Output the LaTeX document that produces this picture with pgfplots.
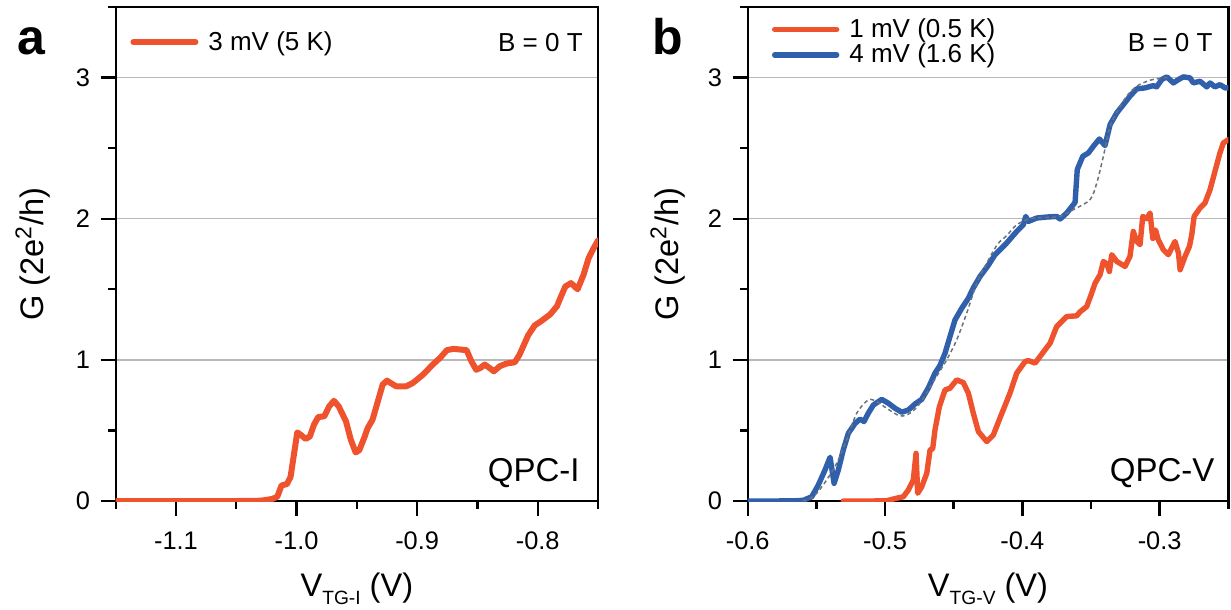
\documentclass[border=0pt]{standalone}
\usepackage{fontspec}
\setmainfont{Liberation Sans}
\usepackage{pgfplots}
\pgfplotsset{compat=1.18}
\definecolor{cred}{RGB}{238,83,45}
\definecolor{cblue}{RGB}{48,96,172}
\definecolor{cgrid}{RGB}{185,185,185}
\definecolor{cfit}{RGB}{105,115,125}

\pgfplotsset{
  panel/.style={
    scale only axis, height=247pt,
    ymin=0, ymax=3.5,
    ytick={0,1,2,3}, minor ytick={0.5,1.5,2.5,3.5},
    ymajorgrids, grid style={cgrid, line width=0.75pt},
    tick pos=left, tick align=outside,
    major tick length=7.5pt, minor tick length=3.75pt,
    every tick/.style={black, line width=1.2pt},
    axis line style={line width=1.2pt},
    ticklabel style={font=\fontsize{12.7}{14}\selectfont},
    /pgf/number format/assume math mode=true,
    xticklabel style={yshift=-4.5pt, /pgf/number format/.cd, fixed, fixed zerofill, precision=1},
    yticklabel style={xshift=-1.8pt, /pgf/number format/.cd, fixed, precision=0},
    xlabel style={font=\fontsize{16.3}{18}\selectfont, at={(axis description cs:0.5,-0.194)}, anchor=base},
    ylabel style={font=\fontsize{16.3}{18}\selectfont, anchor=center},
    legend style={draw=none, fill=none, inner sep=0pt, font=\fontsize{13}{14}\selectfont},
    legend cell align=left,
    legend image code/.code={\draw[#1] (0pt,0pt) -- (31pt,0pt); \path (34pt,0pt);},
  },
  curve/.style={line width=2.7pt, line join=round, line cap=round},
}

\begin{document}
\begin{tikzpicture}
\path[use as bounding box] (0,0) rectangle (615.5pt,-305pt);

% ---------------- panel a ----------------
\begin{axis}[panel,
  at={(57.85pt,-250.5pt)}, anchor=south west, width=241.15pt,
  xmin=-1.15, xmax=-0.75,
  xtick={-1.1,-1.0,-0.9,-0.8}, minor xtick={-1.15,-1.05,-0.95,-0.85,-0.75},
  xlabel={V\raisebox{-0.45ex}{\fontsize{9.6}{10}\selectfont TG-I} (V)},
  ylabel={G (2e\textsuperscript{2}/h)},
  ylabel style={at={(axis description cs:-0.1715,0.5)}},
  legend style={at={(axis description cs:0.0297,0.929)}, anchor=west},
]
\addplot[curve, line width=3pt, cred] coordinates {
(-1.15,0) (-1.10,0) (-1.05,0) (-1.03,0.002) (-1.025,0.008) (-1.02,0.015)
(-1.016,0.03) (-1.0125,0.11) (-1.008,0.12) (-1.005,0.17) (-1.002,0.34)
(-0.9994,0.486) (-0.9967,0.47) (-0.9925,0.44) (-0.989,0.457) (-0.9856,0.54)
(-0.982,0.595) (-0.977,0.60) (-0.973,0.67) (-0.969,0.71) (-0.965,0.67)
(-0.959,0.564) (-0.955,0.434) (-0.951,0.344) (-0.948,0.36) (-0.944,0.445)
(-0.941,0.517) (-0.937,0.576) (-0.933,0.694) (-0.9286,0.825) (-0.925,0.853)
(-0.922,0.836) (-0.9175,0.813) (-0.909,0.813) (-0.9036,0.836) (-0.895,0.896)
(-0.887,0.967) (-0.881,1.014) (-0.8753,1.069) (-0.870,1.078) (-0.864,1.073)
(-0.859,1.069) (-0.855,0.99) (-0.851,0.93) (-0.8475,0.943) (-0.844,0.967)
(-0.840,0.943) (-0.8364,0.919) (-0.8314,0.955) (-0.8258,0.974) (-0.819,0.983)
(-0.815,1.038) (-0.808,1.173) (-0.8025,1.244) (-0.797,1.275) (-0.7897,1.322)
(-0.784,1.38) (-0.7813,1.437) (-0.7771,1.52) (-0.7724,1.544) (-0.7669,1.50)
(-0.762,1.603) (-0.7578,1.72) (-0.7537,1.79) (-0.75,1.846)
};
\addlegendentry{3 mV (5 K)}
\node[anchor=base east, inner sep=0pt, font=\fontsize{13}{14}\selectfont] at (axis description cs:0.969,0.9095) {B = 0 T};
\node[anchor=base east, inner sep=0pt, font=\fontsize{16.5}{18}\selectfont] at (axis description cs:0.9627,0.039) {QPC-I};
\end{axis}

% ---------------- panel b ----------------
\begin{axis}[panel,
  at={(373.85pt,-250.5pt)}, anchor=south west, width=240.3pt,
  xmin=-0.6, xmax=-0.25,
  xtick={-0.6,-0.5,-0.4,-0.3}, minor xtick={-0.55,-0.45,-0.35,-0.25},
  xlabel={V\raisebox{-0.45ex}{\fontsize{9.6}{10}\selectfont TG-V} (V)},
  ylabel={G (2e\textsuperscript{2}/h)},
  ylabel style={at={(axis description cs:-0.166,0.5)}},
  legend style={at={(axis description cs:0.0497,0.9288)}, anchor=west, row sep=-2.2pt},
]
\addplot[curve, cred] coordinates {
(-0.5304,0) (-0.51,0) (-0.4988,0.002) (-0.4915,0.02) (-0.4867,0.03)
(-0.483,0.078) (-0.4794,0.149) (-0.4774,0.338) (-0.4762,0.055) (-0.4733,0.10)
(-0.4696,0.196) (-0.4672,0.362) (-0.4653,0.37) (-0.4636,0.504) (-0.4604,0.669)
(-0.4563,0.787) (-0.4527,0.799) (-0.4478,0.858) (-0.443,0.839) (-0.4393,0.764)
(-0.4357,0.622) (-0.432,0.492) (-0.4259,0.421) (-0.4211,0.468) (-0.4162,0.59)
(-0.409,0.764) (-0.4041,0.906) (-0.398,0.988) (-0.3956,0.995) (-0.3907,0.977)
(-0.3871,1.024) (-0.3835,1.071) (-0.3798,1.118) (-0.375,1.236) (-0.3725,1.26)
(-0.3677,1.307) (-0.3604,1.312) (-0.358,1.34) (-0.3531,1.378) (-0.3495,1.473)
(-0.347,1.544) (-0.3434,1.603) (-0.341,1.697) (-0.3385,1.68) (-0.3366,1.626)
(-0.3349,1.745) (-0.3312,1.697) (-0.3252,1.662) (-0.3216,1.733) (-0.3192,1.91)
(-0.3167,1.84) (-0.3143,1.816) (-0.3123,2.016) (-0.3095,2.0) (-0.307,2.04)
(-0.305,1.86) (-0.303,1.92) (-0.301,1.85) (-0.2973,1.78) (-0.2937,1.745)
(-0.2888,1.839) (-0.2863,1.757) (-0.2851,1.638) (-0.2815,1.733) (-0.2783,1.804)
(-0.2766,1.887) (-0.2749,2.016) (-0.2706,2.076) (-0.267,2.111) (-0.2633,2.206)
(-0.2597,2.336) (-0.2561,2.466) (-0.2536,2.537) (-0.25,2.56)
};
\addlegendentry{1 mV (0.5 K)}
\addplot[curve, cblue] coordinates {
(-0.60,0) (-0.58,0) (-0.565,0.002) (-0.5595,0.005) (-0.5534,0.03)
(-0.5486,0.113) (-0.5437,0.22) (-0.540,0.31) (-0.5371,0.125) (-0.534,0.22)
(-0.5304,0.362) (-0.5267,0.48) (-0.5218,0.55) (-0.5182,0.58) (-0.5153,0.563)
(-0.5122,0.622) (-0.5085,0.68) (-0.5024,0.72) (-0.4976,0.693) (-0.4927,0.657)
(-0.4878,0.629) (-0.483,0.645) (-0.4781,0.688) (-0.4733,0.72) (-0.4685,0.80)
(-0.4636,0.906) (-0.46,0.96) (-0.4563,1.047) (-0.4527,1.165) (-0.449,1.284)
(-0.4441,1.366) (-0.4393,1.437) (-0.4357,1.51) (-0.4308,1.591) (-0.4248,1.67)
(-0.4199,1.745) (-0.4114,1.828) (-0.4041,1.91) (-0.3993,1.957) (-0.3975,2.016)
(-0.3956,1.981) (-0.3895,2.005) (-0.3822,2.012) (-0.375,2.016) (-0.3725,1.998)
(-0.3677,2.04) (-0.3616,2.115) (-0.36,2.348) (-0.356,2.442) (-0.3519,2.466)
(-0.3483,2.513) (-0.3439,2.565) (-0.3398,2.518) (-0.3361,2.667) (-0.3312,2.75)
(-0.3264,2.809) (-0.3216,2.868) (-0.3167,2.92) (-0.3106,2.927) (-0.3046,2.943)
(-0.3022,2.934) (-0.2985,2.986) (-0.2948,3.005) (-0.29,2.962) (-0.2863,2.986)
(-0.2827,3.005) (-0.2779,2.998) (-0.2755,2.962) (-0.2706,2.974) (-0.2657,2.934)
(-0.2633,2.962) (-0.2597,2.934) (-0.256,2.95) (-0.2524,2.927) (-0.25,2.927)
};
\addlegendentry{4 mV (1.6 K)}
\addplot[forget plot, smooth, tension=0.5, cfit, line width=0.75pt, dash pattern=on 2pt off 1.5pt] coordinates {
(-0.56,0.003) (-0.555,0.015) (-0.5497,0.055) (-0.5425,0.149) (-0.5352,0.267)
(-0.5279,0.433) (-0.5206,0.622) (-0.5122,0.716) (-0.506,0.704) (-0.4988,0.657)
(-0.4891,0.603) (-0.4818,0.622) (-0.4745,0.693) (-0.4648,0.846) (-0.4551,1.0)
(-0.4478,1.142) (-0.4405,1.331) (-0.4332,1.544) (-0.4259,1.686) (-0.418,1.82)
(-0.4114,1.88) (-0.4041,1.957) (-0.3944,2.0) (-0.3822,2.01) (-0.3725,2.016)
(-0.3629,2.064) (-0.3507,2.135) (-0.3458,2.253) (-0.341,2.442) (-0.3361,2.655)
(-0.3301,2.773) (-0.324,2.868) (-0.3167,2.939) (-0.307,2.981) (-0.2973,2.998)
(-0.293,3.0)
};
\node[anchor=base east, inner sep=0pt, font=\fontsize{13}{14}\selectfont] at (axis description cs:0.968,0.9095) {B = 0 T};
\node[anchor=base east, inner sep=0pt, font=\fontsize{16.5}{18}\selectfont] at (axis description cs:0.972,0.039) {QPC-V};
\end{axis}

\node[anchor=base west, font=\fontsize{25}{27}\selectfont\bfseries, inner sep=0pt] at (8.5pt,-27.5pt) {a};
\node[anchor=base west, font=\fontsize{25}{27}\selectfont\bfseries, inner sep=0pt] at (326pt,-27.5pt) {b};
\end{tikzpicture}
\end{document}
